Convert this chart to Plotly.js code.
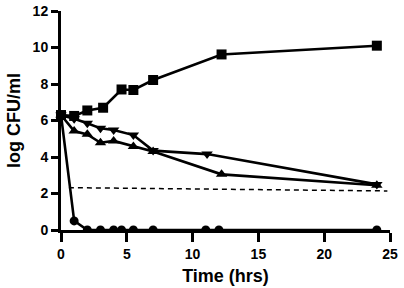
<!DOCTYPE html>
<html><head><meta charset="utf-8">
<script src="https://cdn.plot.ly/plotly-3.0.1.min.js"></script>
<style>html,body{margin:0;padding:0;background:#fff}#chart{width:404px;height:288px}</style>
</head><body><div id="chart"></div>
<script>
// Series
var squareT = [0, 1, 2, 3.2, 4.6, 5.5, 7, 12.2, 24];
var squareY = [6.3, 6.25, 6.55, 6.7, 7.7, 7.67, 8.22, 9.62, 10.1];

var downTriT = [0, 1, 2, 3, 4, 5.5, 7, 11.1, 24];
var downTriY = [6.3, 6.1, 5.85, 5.57, 5.48, 5.2, 4.35, 4.16, 2.5];

var upTriT = [0, 1, 2, 3, 4, 5.5, 7, 12.2, 24];
var upTriY = [6.3, 5.42, 5.24, 4.78, 4.88, 4.57, 4.3, 3.05, 2.45];

var circleT = [0, 1, 2, 3, 4, 4.6, 5.5, 7, 11, 12, 24];
var circleY = [6.3, 0.5, 0, 0, 0, 0, 0, 0, 0, 0, 0];

var limitT = [0.6, 24.8];
var limitY = [2.32, 2.14];

var xTicks = [0, 5, 10, 15, 20, 25];
var yTicks = [0, 2, 4, 6, 8, 10, 12];

var lineStyle = {color: '#000', width: 2.6};
function series(x, y, sym, size, clip) {
  return {x: x, y: y, type: 'scatter', mode: 'lines+markers', cliponaxis: clip,
    line: lineStyle, marker: {symbol: sym, size: size, color: '#000'}, hoverinfo: 'skip'};
}
var data = [
  {x: limitT, y: limitY, type: 'scatter', mode: 'lines', cliponaxis: false,
   line: {color: '#000', width: 1.5, dash: '5px,4px'}, hoverinfo: 'skip'},
  series(circleT, circleY, 'circle', 9, true),
  series(upTriT, upTriY, 'triangle-up', 10, false),
  series(downTriT, downTriY, 'triangle-down', 10, false),
  series(squareT, squareY, 'square', 10, false)
];
var fam = 'Liberation Sans, Arial, sans-serif';
var tickFont = {family: fam, size: 14, color: '#000', weight: 700};
var layout = {
  width: 404, height: 288,
  margin: {l: 61, r: 14, t: 11, b: 58},
  paper_bgcolor: '#fff', plot_bgcolor: '#fff',
  showlegend: false,
  font: {family: fam, color: '#000'},
  xaxis: {
    range: [0, 25], tickvals: xTicks, ticktext: xTicks.map(String),
    showgrid: false, zeroline: false, showline: true, linecolor: '#000', linewidth: 3,
    layer: 'above traces',
    ticks: 'outside', ticklen: 9, tickwidth: 3, tickcolor: '#000',
    tickfont: tickFont,
    title: {text: 'Time (hrs)', font: {family: fam, size: 18, color: '#000', weight: 700}, standoff: 9}
  },
  yaxis: {
    range: [0, 12], tickvals: yTicks, ticktext: yTicks.map(String),
    showgrid: false, zeroline: false, showline: true, linecolor: '#000', linewidth: 3,
    layer: 'above traces',
    ticks: 'outside', ticklen: 7, tickwidth: 3, tickcolor: '#000',
    tickfont: tickFont,
    title: {text: 'log CFU/ml', font: {family: fam, size: 18, color: '#000', weight: 700}, standoff: 8}
  }
};
Plotly.newPlot('chart', data, layout, {staticPlot: true, displayModeBar: false});
</script></body></html>
